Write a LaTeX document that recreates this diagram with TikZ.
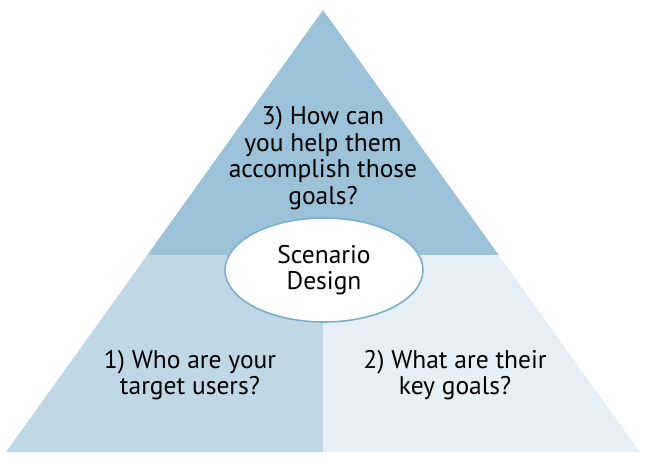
\documentclass[tikz,border=0pt]{standalone}
\usepackage{fontspec}
\setmainfont{PT Sans}
\usepackage{tikz}
\usetikzlibrary{shapes.geometric, positioning, calc}
\usepackage{xcolor}
\definecolor{pyramidtop}{RGB}{155, 194, 216}
\definecolor{pyramidleft}{RGB}{192, 216, 230}
\definecolor{pyramidright}{RGB}{230, 239, 246}
\definecolor{pyramidedge}{RGB}{125, 174, 204}
\tikzstyle{question} = [align=center, font=\fontsize{25.5}{26.5}\selectfont, text=black]
\tikzstyle{core} = [ellipse, draw=pyramidedge, line width=1.6pt, fill=white, minimum width=198pt, minimum height=104pt, align=center, font=\fontsize{25.5}{26}\selectfont]

\begin{document}
\begin{tikzpicture}[x=1pt, y=-1pt]
\useasboundingbox (0,0) rectangle (648,469);
% corners of the pyramid
\coordinate (apex) at (323,10);
\coordinate (baseL) at (6,452);
\coordinate (baseR) at (640,452);
\coordinate (midL) at (147.3,255);
\coordinate (midR) at (498.7,255);
\coordinate (midC) at (323,255);
\coordinate (baseC) at (323,452);
% three faces
\fill[pyramidtop] (apex) -- (midR) -- (midL) -- cycle;
\fill[pyramidleft] (midL) -- (midC) -- (baseC) -- (baseL) -- cycle;
\fill[pyramidright] (midC) -- (midR) -- (baseR) -- (baseC) -- cycle;
% labels
\node[question] (how) at (323,158) {3) How can\\you help them\\accomplish those\\goals?};
\node[question] (who) at (190,375) {1) Who are your\\target users?};
\node[question] (what) at (455,375) {2) What are their\\key goals?};
\node[core] (scenario) at (324,270) {Scenario\\Design};
\end{tikzpicture}
\end{document}
